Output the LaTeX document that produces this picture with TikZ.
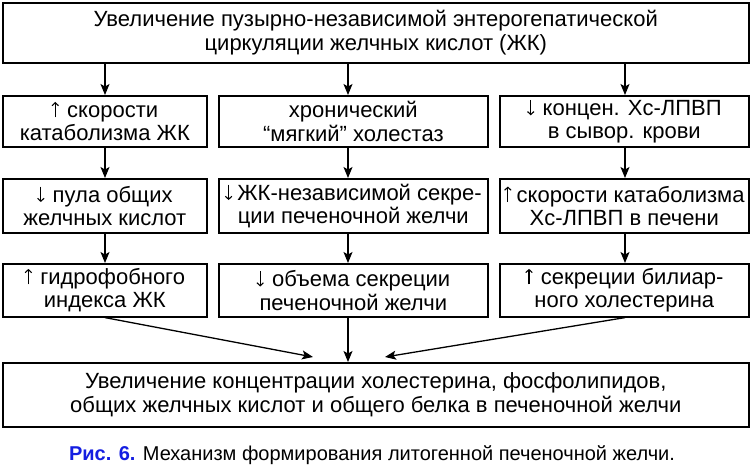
\documentclass[tikz,border=0pt]{standalone}
\usepackage{fontspec}
\setmainfont{Liberation Sans}
\usetikzlibrary{arrows.meta}
\definecolor{capblue}{RGB}{20,30,225}
\newcommand{\upar}{\tikz[baseline=0pt]\draw[line width=1.1pt,-{Straight Barb[length=3pt,width=6.5pt]}] (0,0) -- (0,15.5pt);\hspace{2pt}}
\newcommand{\dnar}{\tikz[baseline=0pt]\draw[line width=1.1pt,-{Straight Barb[length=3pt,width=6.5pt]}] (0,15.5pt) -- (0,0);\hspace{2pt}}
\begin{document}
\begin{tikzpicture}[x=1pt,y=-1pt,
  box/.style={draw,line width=1.6pt,inner sep=0pt,anchor=north west,
    font=\fontsize{22}{23.5}\selectfont,align=center},
  conn/.style={line width=1.3pt,-{Stealth[length=11pt,width=9pt,inset=2.5pt]}}]
\useasboundingbox (0,0) rectangle (750,471);
\node[box,minimum width=746pt,minimum height=60pt] (top) at (2,2)
  {Увеличение пузырно-независимой энтерогепатической\\циркуляции желчных кислот (ЖК)};
% row 1
\node[box,minimum width=204pt,minimum height=51pt] (l1) at (2,95)
  {\upar\ скорости\\катаболизма ЖК};
\node[box,minimum width=269pt,minimum height=51pt] (m1) at (218,95)
  {хронический\\“мягкий” холестаз};
\node[box,minimum width=249pt,minimum height=51pt] (r1) at (499,95)
  {\dnar\ концен. Хс-ЛПВП\\в сывор. крови};
% row 2
\node[box,minimum width=204pt,minimum height=54pt] (l2) at (2,178)
  {\dnar\ пула общих\\желчных кислот};
\node[box,minimum width=269pt,minimum height=54pt] (m2) at (218,178)
  {\dnar\hspace{3pt}ЖК-независимой секре-\\ции печеночной желчи};
\node[box,minimum width=249pt,minimum height=54pt] (r2) at (499,178)
  {\upar\hspace{3pt}скорости катаболизма\\Хс-ЛПВП в печени};
% row 3
\node[box,minimum width=204pt,minimum height=53pt] (l3) at (2,263)
  {\upar\ гидрофобного\\индекса ЖК};
\node[box,minimum width=269pt,minimum height=53pt] (m3) at (218,263)
  {\dnar\ объема секреции\\печеночной желчи};
\node[box,minimum width=249pt,minimum height=53pt] (r3) at (499,263)
  {\upar\ секреции билиар-\\ного холестерина};
% bottom
\node[box,minimum width=746pt,minimum height=64pt] (bot) at (2,362)
  {Увеличение концентрации холестерина, фосфолипидов,\\общих желчных кислот и общего белка в печеночной желчи};
% caption
\node[font=\fontsize{20}{22}\selectfont,anchor=base] (cap) at (372,460)
  {{\bfseries\color{capblue}Рис. 6.} Механизм формирования литогенной печеночной желчи.};
% column coordinates
\coordinate (c1) at (105,0);
\coordinate (c2) at (348,0);
\coordinate (c3) at (625,0);
\coordinate (tipL) at (313,357);
\coordinate (tipR) at (385,357);
\draw[conn] (top.south -| c1) -- (l1.north -| c1);
\draw[conn] (top.south -| c2) -- (m1.north -| c2);
\draw[conn] (top.south -| c3) -- (r1.north -| c3);
\draw[conn] (l1.south -| c1) -- (l2.north -| c1);
\draw[conn] (m1.south -| c2) -- (m2.north -| c2);
\draw[conn] (r1.south -| c3) -- (r2.north -| c3);
\draw[conn] (l2.south -| c1) -- (l3.north -| c1);
\draw[conn] (m2.south -| c2) -- (m3.north -| c2);
\draw[conn] (r2.south -| c3) -- (r3.north -| c3);
\draw[conn] (l3.south -| c1) -- (tipL);
\draw[conn] (m3.south -| c2) -- (bot.north -| c2);
\draw[conn] (r3.south -| c3) -- (tipR);
\end{tikzpicture}
\end{document}
